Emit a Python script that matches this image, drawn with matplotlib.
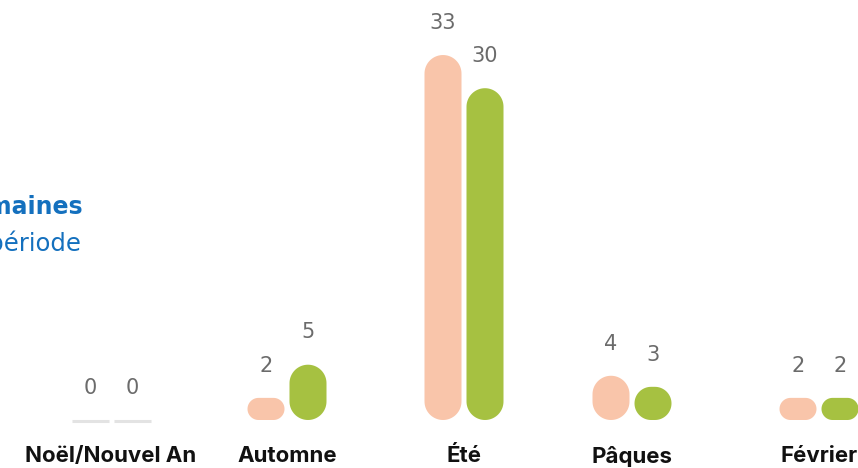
import matplotlib
matplotlib.use('Agg')
import matplotlib.pyplot as plt
import numpy as np
from matplotlib.patches import Polygon

categories = ['Noël/Nouvel An', 'Automne', 'Été', 'Pâques', 'Février']
serie_a = [0, 2, 33, 4, 2]
serie_b = [0, 5, 30, 3, 2]

# layout (pixels on an 858x468 canvas)
group_x = [111, 287, 464, 632, 819]
bar_w = 37
offset = 21
px_per_unit = 11.06
base_px = 420

pink = '#F9C5AA'
green = '#A6C141'

fig = plt.figure(figsize=(8.58, 4.68), dpi=100)
ax = fig.add_axes([0, (468 - base_px) / 468, 1, base_px / 468])
ax.set_xlim(0, 858)
ax.set_ylim(0, base_px / px_per_unit)


def rounded_bar(xc, val, color):
    # build a rounded rectangle in pixel space, then scale y back to data units
    h = val * px_per_unit
    r = min(bar_w / 2, h / 2)
    x0, x1 = xc - bar_w / 2, xc + bar_w / 2
    t = np.linspace(0, np.pi / 2, 20)
    pts = []
    # top right, top left, bottom left, bottom right corners
    for cx, cy, a0 in [(x1 - r, h - r, 0), (x0 + r, h - r, np.pi / 2),
                       (x0 + r, r, np.pi), (x1 - r, r, 1.5 * np.pi)]:
        a = a0 + t
        pts.append(np.column_stack([cx + r * np.cos(a), cy + r * np.sin(a)]))
    pts = np.vstack(pts)
    pts[:, 1] /= px_per_unit
    ax.add_patch(Polygon(pts, closed=True, facecolor=color, edgecolor='none',
                         clip_on=False))


for i, x in enumerate(group_x):
    for val, dx, col in [(serie_a[i], -offset, pink), (serie_b[i], offset, green)]:
        xc = x + dx
        if val == 0:
            ax.plot([xc - bar_w / 2, xc + bar_w / 2], [-0.1, -0.1], color='#e3e3e3',
                    lw=2.2, solid_capstyle='butt', clip_on=False)
        else:
            rounded_bar(xc, val, col)
        ax.annotate(str(val), (xc, val), xytext=(0, 16), textcoords='offset points',
                    ha='center', va='bottom', fontsize=15, color='#6b6b6b',
                    family='DejaVu Sans')

ax.set_xticks(group_x)
ax.set_xticklabels(categories, fontsize=16, fontweight='bold', family='Inter',
                   color='#111111')
ax.tick_params(axis='x', length=0, pad=19)
ax.set_yticks([])
for s in ax.spines.values():
    s.set_visible(False)

fig.text(83 / 858, 1 - 207 / 468, 'Nombre de semaines', ha='right', va='center',
         fontsize=17, fontweight='bold', color='#1470BE', family='DejaVu Sans')
fig.text(81 / 858, 1 - 243 / 468, 'par période', ha='right', va='center',
         fontsize=17.5, color='#1470BE', family='DejaVu Sans')

fig.savefig('out.png', dpi=100)
